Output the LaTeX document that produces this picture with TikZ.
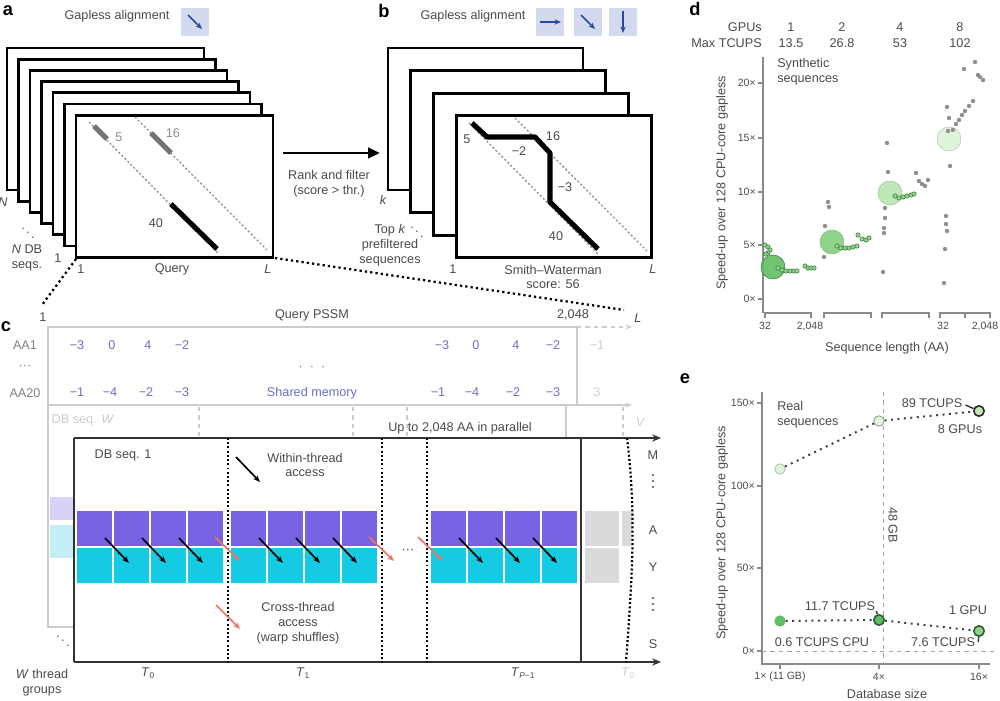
\documentclass[tikz,border=0pt]{standalone}
\usepackage{fontspec}
\setmainfont{Liberation Sans}
\usetikzlibrary{arrows.meta}

\definecolor{txtgray}{HTML}{4A4A4A}
\definecolor{faint}{HTML}{CCCCCC}
\definecolor{iconbg}{HTML}{D3D9EE}
\definecolor{iconblue}{HTML}{2B4A9B}
\definecolor{pssmblue}{HTML}{6A6FC6}
\definecolor{cellpurple}{HTML}{7862E3}
\definecolor{cellcyan}{HTML}{14CBE3}
\definecolor{stubpurple}{HTML}{D8D2F6}
\definecolor{stubcyan}{HTML}{C4EEF5}
\definecolor{cellgray}{HTML}{DADADA}
\definecolor{shuffle}{HTML}{F07462}
\definecolor{axgray}{HTML}{8A8A8A}
\definecolor{dotgray}{HTML}{8F8F8F}
\definecolor{gdark}{HTML}{5FBF63}
\definecolor{gmid}{HTML}{90D48B}
\definecolor{glight}{HTML}{BFE7B7}
\definecolor{gpale}{HTML}{E0F3DB}
\definecolor{gline}{HTML}{3F7F42}

\tikzset{
  lbl/.style={font=\fontsize{9}{10.6}\selectfont, text=txtgray, inner sep=0pt, align=center},
  ticklbl/.style={font=\fontsize{7.5}{9}\selectfont, text=txtgray, inner sep=0pt},
  panel/.style={font=\bfseries\fontsize{13}{13}\selectfont, inner sep=0pt},
  seqframe/.style={draw=black, fill=white, line width=2pt},
  diag/.style={dotgray, line width=0.9pt, dash pattern=on 1.5pt off 1.5pt},
  icon/.style={fill=iconbg, minimum size=7.2mm, inner sep=0pt},
  iconarrow/.style={iconblue, line width=1.1pt, -{Stealth[length=1.6mm,width=1.3mm]}},
  zoomline/.style={black, line width=1.6pt, dash pattern=on 1.6pt off 2.2pt},
  cframe/.style={draw=black!80, line width=1.3pt},
  tdiv/.style={black, line width=1.6pt, dash pattern=on 1.4pt off 1.6pt},
  wta/.style={black, line width=1.2pt, -{Stealth[length=1.8mm,width=1.4mm]}},
  xta/.style={shuffle, line width=1.2pt, -{Stealth[length=1.8mm,width=1.4mm]}},
  pssm/.style={font=\fontsize{9}{10}\selectfont, text=pssmblue, inner sep=0pt},
  fadetxt/.style={font=\fontsize{9}{10}\selectfont, text=faint, inner sep=0pt},
  axline/.style={axgray, line width=0.8pt},
  sdot/.style={fill=dotgray},
  gdot/.style={fill=gmid, draw=gline, line width=0.4pt},
  serline/.style={black!75, line width=1.4pt, dash pattern=on 1.4pt off 3.2pt},
  epoint/.style={circle, minimum size=2.6mm, inner sep=0pt, line width=0.6pt},
}

\begin{document}
\begin{tikzpicture}[x=0.25mm, y=-0.25mm]
\useasboundingbox (0,0) rectangle (1000,701);

%% a
\node[panel] (pa) at (8,11) {a};
\node[lbl] (gapa) at (117,16) {Gapless alignment};
\node[icon] (ica) at (195,22) {};
\draw[iconarrow] (188,15) -- (202,29);

\foreach \i in {0,...,6}
  \draw[seqframe] ({7+11.5*\i},{48+11.2*\i}) rectangle ++(197,142);
\draw[diag] (89,122) -- (218,253);
\draw[diag] (135,117) -- (267,250);
\draw[line width=3.6pt, black!55] (94,126) -- (107,139);
\draw[line width=3.6pt, black!55] (151,133) -- (171,153);
\draw[line width=3.6pt] (171,204) -- (217,249);
\node[lbl, text=black!45] (s5a) at (119,137) {5};
\node[lbl, text=black!45] (s16a) at (173,133) {16};
\node[lbl] (s40a) at (156,223) {40};

\node[lbl] (na) at (3,202) {\itshape N};
\node[lbl] (dda) at (28,229) {$\ddots$};
\node[lbl] (dba) at (27,258) {\textit{N} DB\\seqs.};
\node[lbl] (one1a) at (58,258) {1};
\node[lbl] (one2a) at (81,269) {1};
\node[lbl] (qa) at (172,269) {Query};
\node[lbl] (la) at (268,269) {\itshape L};
\coordinate (a1) at (76,259);
\coordinate (aL) at (275,258);

% rank and filter
\coordinate (rf1) at (283,153);
\coordinate (rf2) at (380,153);
\draw[line width=2pt, -{Triangle[length=3mm,width=2.6mm]}] (rf1) -- (rf2);
\node[lbl] (rft) at (329,184) {Rank and filter\\(score > thr.)};

%% b
\node[panel] (pb) at (384,11) {b};
\node[lbl] (gapb) at (473,16) {Gapless alignment};
\node[icon] (ib1) at (550,22) {};
\node[icon] (ib2) at (588,22) {};
\node[icon] (ib3) at (623,22) {};
\draw[iconarrow] (540,22) -- (561,22);
\draw[iconarrow] (581,15) -- (595,29);
\draw[iconarrow] (623,11) -- (623,33);

\foreach \i in {0,...,3}
  \draw[seqframe] ({388+22.7*\i},{48+22.6*\i}) rectangle ++(195,142);
\draw[diag] (469,123) -- (598,254);
\draw[diag] (515,118) -- (647,251);
\draw[line width=3.6pt, line join=round] (472,123) -- (487,137) -- (535,137) -- (550,153) -- (550,202) -- (598,249);
\node[lbl] (s5b) at (467,139) {5};
\node[lbl] (s16b) at (553,136) {16};
\node[lbl] (m2b) at (519,151) {−2};
\node[lbl] (m3b) at (565,187) {−3};
\node[lbl] (s40b) at (556,236) {40};

\node[lbl] (kb) at (383,200) {\itshape k};
\node[lbl] (topk) at (390,245) {Top \textit{k}\\prefiltered\\sequences};
\node[lbl] (ddb) at (417,228) {$\ddots$};
\node[lbl] (one1b) at (453,269) {1};
\node[lbl] (swb) at (553,277) {Smith–Waterman\\score: 56};
\node[lbl] (lb) at (653,269) {\itshape L};

%% c
\node[panel] (pc) at (6,327) {c};
\node[lbl] (onec) at (43,317) {1};
\node[lbl] (qpssm) at (312,315) {Query PSSM};
\node[lbl] (c2048) at (573,315) {2,048};
\node[lbl] (lc) at (638,318) {\itshape L};
\coordinate (c1) at (42,305);
\coordinate (cL) at (624,310);
\draw[zoomline] (a1) -- (c1);
\draw[zoomline] (aL) -- (cL);

% query PSSM in shared memory
\draw[faint, line width=1pt] (48,405) -- (48,327) -- (577,327) -- (577,405);
\draw[faint, line width=1pt, dashed, -{Stealth[length=1.6mm]}] (577,327) -- (632,327);
\draw[faint, line width=1pt, -{Stealth[length=1.6mm]}] (48,405) -- (632,405);
\draw[faint, line width=1pt] (48,405) -- (48,627) -- (74,627);
\draw[faint, line width=1pt] (566,405) -- (566,437);
\foreach \x in {199,353,407,623}
  \draw[faint, line width=1pt, dashed] (\x,407) -- (\x,436);

\node[lbl, text=black!50] (aa1) at (25,345) {AA1};
\node[lbl, text=black!50] (aadots) at (25,367) {···};
\node[lbl, text=black!50] (aa20) at (25,393) {AA20};
\foreach \x/\v in {77/−3,112/0,148/4,182/−2,442/−3,476/0,516/4,553/−2}
  \node[pssm] (r1-\x) at (\x,345) {\v};
\foreach \x/\v in {77/−1,110/−4,146/−2,182/−3,438/−1,472/−4,513/−2,553/−3}
  \node[pssm] (r2-\x) at (\x,392) {\v};
\node[pssm] (pdots) at (312,368) {·\ \ ·\ \ ·};
\node[pssm] (shm) at (312,393) {Shared memory};
\node[fadetxt] (f1) at (597,345) {−1};
\node[fadetxt] (f3) at (597,392) {3};
\node[fadetxt] (dbw) at (83,420) {DB seq. \textit{W}};
\node[fadetxt] (vc) at (640,422) {\itshape V};
\node[lbl] (upto) at (460,428) {Up to 2,048 AA in parallel};

% thread groups
\fill[stubpurple] (50,497) rectangle (73,520);
\fill[stubcyan] (50,525) rectangle (73,558);
\foreach \gx in {77,231,431}
  \foreach \k in {0,...,3} {
    \fill[cellpurple] ({\gx+37*\k},511) rectangle ++(35,35);
    \fill[cellcyan] ({\gx+37*\k},548) rectangle ++(35,35);
  }
\fill[cellgray] (585,511) rectangle (619,546);
\fill[cellgray] (585,548) rectangle (619,583);
\fill[cellgray] (622,511) -- (633,511) -- (631,546) -- (622,546) -- cycle;

\draw[cframe] (74,438) -- (74,662);
\draw[cframe, -{Stealth[length=2.2mm,width=1.8mm]}] (74,438) -- (661,438);
\draw[cframe, -{Stealth[length=2.2mm,width=1.8mm]}] (74,662) -- (661,662);
\draw[cframe] (581,438) -- (581,662);
\foreach \x in {228,382,427}
  \draw[tdiv] (\x,438) -- (\x,662);
\draw[tdiv] (627,438) .. controls (636,510) and (633,570) .. (626,662);

\foreach \gx in {77,231,431}
  \foreach \k in {0,1,2}
    \draw[wta] ({\gx+28+37*\k},538) -- ++(24,25);
\foreach \x in {215,369,418}
  \draw[xta] (\x,537) -- ++(25,24);
\node[lbl] (midots) at (408,551) {···};

\node[lbl] (db1) at (123,455) {DB seq. 1};
\coordinate (wt1) at (236,457);
\coordinate (wt2) at (260,482);
\draw[wta] (wt1) -- (wt2);
\node[lbl] (wtxt) at (305,465) {Within-thread\\access};
\coordinate (xt1) at (216,605);
\coordinate (xt2) at (240,629);
\draw[xta] (xt1) -- (xt2);
\node[lbl] (xtxt) at (298,623) {Cross-thread\\access\\(warp shuffles)};

\node[lbl] (rm) at (653,455) {M};
\node[lbl] (ra) at (653,530) {A};
\node[lbl] (ry) at (653,567) {Y};
\node[lbl] (rs) at (653,644) {S};
\foreach \y in {481,604}
  \foreach \d in {-6,0,6}
    \fill[txtgray] (653,\y+\d) circle[radius=0.3mm];

\node[lbl] (ddc) at (63,637) {$\ddots$};
\node[lbl] (wtg) at (42,683) {\textit{W} thread\\groups};
\node[lbl] (t0) at (148,673) {\textit{T}\textsubscript{0}};
\node[lbl] (t1) at (303,673) {\textit{T}\textsubscript{1}};
\node[lbl] (tp) at (523,673) {\textit{T}\textsubscript{\textit{P}−1}};
\node[fadetxt] (t0b) at (628,673) {\textit{T}\textsubscript{0}};

%% d
\node[panel] (pd) at (695,9) {d};
\node[lbl, anchor=east] (gpus) at (762,27) {GPUs};
\node[lbl, anchor=east] (maxt) at (762,43) {Max TCUPS};
\foreach \x/\g/\t in {791/1/13.5,842/2/26.8,900/4/53,960/8/102} {
  \node[lbl] (g\g) at (\x,27) {\g};
  \node[lbl] (t\g) at (\x,43) {\t};
}
\draw[axline] (763,57) -- (763,313);
\foreach \y/\v in {299/0,245/5,192/10,138/15,83/20} {
  \draw[axline] (758,\y) -- (763,\y);
  \node[ticklbl, anchor=east] (yd\v) at (756,\y) {\v×};
}
\foreach \a/\b in {765/811,824/871,882/929,940/990}
  \draw[axline] (\a,318) -- (\a,313) -- (\b,313) -- (\b,318);
\draw[axline] (965,313) -- (965,318);
\node[ticklbl] (xd1) at (765,326) {32};
\node[ticklbl] (xd2) at (810,326) {2,048};
\node[ticklbl] (xd3) at (943,326) {32};
\node[ticklbl] (xd4) at (985,326) {2,048};
\node[lbl] (xdl) at (887,348) {Sequence length (AA)};
\node[lbl, rotate=90] (ydl) at (722,183) {Speed-up over 128 CPU-core gapless};
\node[lbl, anchor=west, align=left] (synth) at (777,72) {Synthetic\\sequences};

\fill[gdark, fill opacity=0.9] (773,267) circle[radius=3mm];
\draw[gline, line width=0.4pt] (773,267) circle[radius=3mm];
\fill[gmid] (832,242) circle[radius=3mm];
\draw[gline!60, line width=0.4pt] (832,242) circle[radius=3mm];
\fill[glight] (890,193) circle[radius=3mm];
\draw[gline!50, line width=0.4pt] (890,193) circle[radius=3mm];
\fill[gpale] (949,139) circle[radius=3mm];
\draw[gline!40, line width=0.4pt] (949,139) circle[radius=3mm];

\foreach \x/\y in {765/245,768/247,770/250,768/253,766/254,
    778/268,782/270,786/271,790/271,794/271,797/271,805/266,808/268,811/268,814/268,
    837/246,841/248,845/248,849/248,853/247,857/246,858/235,862/239,866/240,869/238,
    895/196,899/198,903/197,907/196,911/195,914/194}
  \filldraw[gdot] (\x,\y) circle[radius=0.55mm];
\foreach \x/\y in {828/202,829/207,825/226,824/257,
    887/143,888/172,885/208,885/218,884/228,884/233,883/272,
    916/173,919/181,922/184,925/186,928/180,
    947/107,949/118,948/131,950/166,946/216,946/224,947/231,945/249,944/283,
    953/130,956/124,959/120,962/115,965/111,969/106,973/101,
    964/69,975/62,978/75,980/77,983/80}
  \fill[sdot] (\x,\y) circle[radius=0.55mm];

%% e
\node[panel] (pe) at (685,379) {e};
\draw[axline] (762,392) -- (762,664) -- (990,664);
\foreach \y/\v in {651/0,568/50,486/100,403/150} {
  \draw[axline] (757,\y) -- (762,\y);
  \node[ticklbl, anchor=east] (ye\v) at (755,\y) {\v×};
}
\foreach \x in {780,879,979}
  \draw[axline] (\x,664) -- (\x,669);
\node[ticklbl] (xe1) at (780,677) {1× (11 GB)};
\node[ticklbl] (xe2) at (879,677) {4×};
\node[ticklbl] (xe3) at (979,677) {16×};
\node[lbl] (xel) at (887,694) {Database size};
\node[lbl, rotate=90] (yel) at (722,533) {Speed-up over 128 CPU-core gapless};
\draw[faint!80!black, line width=0.7pt, dashed] (762,651) -- (997,651);
\draw[faint!80!black, line width=0.7pt, dashed] (883,392) -- (883,664);
\node[lbl, rotate=-90] (gb48) at (893,525) {48 GB};
\node[lbl, anchor=west, align=left] (real) at (777,415) {Real\\sequences};

\node[epoint, fill=gpale, draw=gline!45] (e81) at (780,469) {};
\node[epoint, fill=gpale, draw=black!40] (e82) at (879,421) {};
\node[epoint, fill=glight, draw=black!85, line width=1.1pt] (e83) at (979,411) {};
\node[epoint, fill=gdark, draw=gdark] (e11) at (780,621) {};
\node[epoint, fill=gdark, draw=gline!70!black, line width=1.1pt] (e12) at (879,620) {};
\node[epoint, fill=gmid, draw=gline!70!black, line width=1.1pt] (e13) at (979,631) {};
\draw[serline] (e81) -- (e82) -- (e83);
\draw[serline] (e11) -- (e12) -- (e13);

\node[lbl] (t89) at (932,403) {89 TCUPS};
\node[lbl] (g8) at (960,429) {8 GPUs};
\node[lbl] (t117) at (840,606) {11.7 TCUPS};
\node[lbl] (g1) at (968,610) {1 GPU};
\node[lbl] (t06) at (822,642) {0.6 TCUPS CPU};
\node[lbl] (t76) at (943,642) {7.6 TCUPS};
\draw[black!80, line width=1pt] (t89.east) ++(3,2) -- (e83);
\draw[black!80, line width=1pt] (t117.east) ++(1,5) -- (e12);
\draw[black!80, line width=1pt] (t76.east) ++(3,0) -- (e13);
\end{tikzpicture}
\end{document}
